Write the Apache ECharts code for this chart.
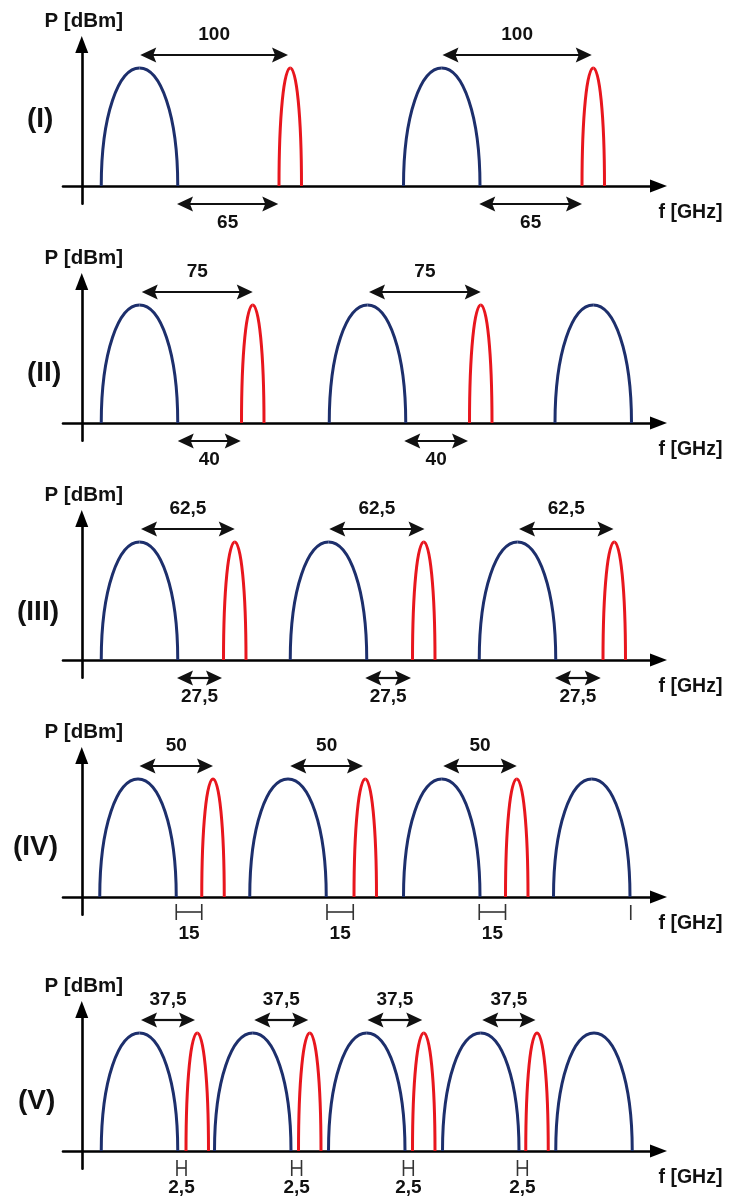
<!DOCTYPE html>
<html><head><meta charset="utf-8">
<script src="https://cdn.jsdelivr.net/npm/echarts@6/dist/echarts.min.js"></script>
<style>html,body{margin:0;padding:0;background:#fff}#c{width:731px;height:1198px}</style>
</head><body><div id="c"></div>
<script>
// ---------- DATA (schematic GHz positions) ----------
const panelNames = ['(I)', '(II)', '(III)', '(IV)', '(V)'];
// centres of the wide (blue) channels
const blueCenters = [
  [38.5, 240],
  [38.5, 190.5, 341],
  [38.5, 164.5, 290.5],
  [37.5, 137.5, 240, 340],
  [38.5, 114, 190, 266, 341.5]
];
// centres of the narrow (red) channels
const redCenters = [
  [139, 341],
  [114, 266],
  [102, 228, 355],
  [87.5, 189, 290],
  [77, 152, 228, 303.5]
];
const blueWidth = 51;   // GHz
const redWidth = 15;    // GHz
// upper spacing arrows [from, to]
const topArrows = [
  [[39, 137.5], [240.5, 340]],
  [[40, 114], [191.5, 266]],
  [[39.5, 102], [165, 228.5], [291.5, 354.5]],
  [[38.5, 87.5], [139, 187.5], [241, 290]],
  [[39.5, 75.5], [115, 151], [190.5, 227], [267, 302.5]]
];
const topLabels = [
  ['100', '100'],
  ['75', '75'],
  ['62,5', '62,5', '62,5'],
  ['50', '50', '50'],
  ['37,5', '37,5', '37,5', '37,5']
];
// lower guard-band marks [from, to]
const bottomMarks = [
  [[63.5, 131], [265, 333.5]],
  [[64, 106], [215, 257.5]],
  [[63.5, 93.5], [189, 219.5], [315.5, 346]],
  [[63, 80], [163.5, 181], [265, 282.5]],
  [[63.5, 69.5], [140, 146.5], [214.5, 221], [290.5, 297]]
];
const bottomLabels = [
  ['65', '65'],
  ['40', '40'],
  ['27,5', '27,5', '27,5'],
  ['15', '15', '15'],
  ['2,5', '2,5', '2,5', '2,5']
];
const bottomKind = ['arrow', 'arrow', 'arrow', 'bracket', 'bracket'];
const loneTicks = [[], [], [], [366], []];
const xMin = -12.5, xMax = 384.5;
const yMin = -0.15, yMax = 1.2;

// ---------- LAYOUT / STYLE ----------
const AXIS_Y = [186, 423, 660, 897, 1151];
const U = 118;
const LABEL_POS = [[27, 120], [27, 374], [17, 613], [13, 848], [18, 1102]];
const BLUE = '#1d2f6c', RED = '#e8161e', INK = '#111';
const FONT = '"Liberation Sans", Arial, sans-serif';
const numFont = 'bold 19px ' + FONT;

function archRender(color) {
  return function (params, api) {
    const c = api.value(0), w = api.value(1);
    const L = api.coord([c - w / 2, 0]), R = api.coord([c + w / 2, 0]), T = api.coord([c, 1]);
    const H = L[1] - T[1], hw = T[0] - L[0];
    const k1 = 0.6, k2 = 0.55;
    const st = { stroke: color, lineWidth: 3, fill: 'none' };
    return {
      type: 'group', children: [
        { type: 'bezierCurve', shape: { x1: L[0], y1: L[1], cpx1: L[0], cpy1: L[1] - k1 * H, cpx2: T[0] - k2 * hw, cpy2: T[1], x2: T[0], y2: T[1] }, style: st },
        { type: 'bezierCurve', shape: { x1: T[0], y1: T[1], cpx1: T[0] + k2 * hw, cpy1: T[1], cpx2: R[0], cpy2: R[1] - k1 * H, x2: R[0], y2: R[1] }, style: st }
      ]
    };
  };
}

function doubleArrow(xa, xb, y, children) {
  const Lh = 16, h = 7.5, n = 3;
  children.push({ type: 'line', shape: { x1: xa + Lh - n - 1, y1: y, x2: xb - Lh + n + 1, y2: y }, style: { stroke: INK, lineWidth: 2.2 } });
  children.push({ type: 'polygon', shape: { points: [[xa, y], [xa + Lh, y - h], [xa + Lh - n, y], [xa + Lh, y + h]] }, style: { fill: INK } });
  children.push({ type: 'polygon', shape: { points: [[xb, y], [xb - Lh, y - h], [xb - Lh + n, y], [xb - Lh, y + h]] }, style: { fill: INK } });
}
function txt(x, y, s) {
  return { type: 'text', x: x, y: y, style: { text: s, font: numFont, fill: INK, align: 'center', verticalAlign: 'middle' } };
}

function topRender(labels) {
  return function (params, api) {
    const a = api.coord([api.value(0), 1]), b = api.coord([api.value(1), 1]);
    const y = a[1] - 13;
    const ch = [];
    doubleArrow(a[0], b[0], y, ch);
    ch.push(txt((a[0] + b[0]) / 2, y - 20, labels[params.dataIndex]));
    return { type: 'group', children: ch };
  };
}
function bottomRender(labels, kind, panel) {
  return function (params, api) {
    const a = api.coord([api.value(0), 0]), b = api.coord([api.value(1), 0]);
    const ch = [];
    if (kind === 'arrow') {
      const y = a[1] + 18;
      doubleArrow(a[0], b[0], y, ch);
      ch.push(txt((a[0] + b[0]) / 2, y + 19, labels[params.dataIndex]));
    } else {
      const y = a[1] + (panel === 3 ? 15 : 17);
      const st = { stroke: '#333', lineWidth: 1.6 };
      ch.push({ type: 'line', shape: { x1: a[0], y1: y, x2: b[0], y2: y }, style: st });
      ch.push({ type: 'line', shape: { x1: a[0], y1: y - 8, x2: a[0], y2: y + 8 }, style: st });
      ch.push({ type: 'line', shape: { x1: b[0], y1: y - 8, x2: b[0], y2: y + 8 }, style: st });
      ch.push(txt((a[0] + b[0]) / 2, y + (panel === 3 ? 22 : 20), labels[params.dataIndex]));
    }
    return { type: 'group', children: ch };
  };
}
function tickRender(params, api) {
  const a = api.coord([api.value(0), 0]);
  return { type: 'line', shape: { x1: a[0], y1: a[1] + 8, x2: a[0], y2: a[1] + 23 }, style: { stroke: '#333', lineWidth: 1.6 } };
}

const grid = [], xAxis = [], yAxis = [], series = [], title = [];
AXIS_Y.forEach(function (ay, i) {
  grid.push({ left: 63, right: 72.5, top: ay - yMax * U, height: (yMax - yMin) * U, outerBoundsMode: 'none', containLabel: false });
  const axisLine = { show: true, onZero: true, symbol: ['none', 'triangle'], symbolSize: [13, 17], lineStyle: { color: '#000', width: 2.6 } };
  xAxis.push({
    type: 'value', gridIndex: i, min: xMin, max: xMax, axisLine: axisLine,
    axisTick: { show: false }, axisLabel: { show: false }, splitLine: { show: false },
    name: 'f [GHz]', nameLocation: 'end', nameGap: 32,
    nameTextStyle: { fontFamily: FONT, fontWeight: 'bold', fontSize: 19.5, color: INK, align: 'center', verticalAlign: 'top', padding: [17, 0, 0, 0] }
  });
  yAxis.push({
    type: 'value', gridIndex: i, min: yMin, max: yMax, axisLine: axisLine,
    axisTick: { show: false }, axisLabel: { show: false }, splitLine: { show: false },
    name: 'P [dBm]', nameLocation: 'end', nameGap: 13,
    nameTextStyle: { fontFamily: FONT, fontWeight: 'bold', fontSize: 20.5, color: INK, align: 'center', padding: [0, 0, 0, 4] }
  });
  title.push({ text: panelNames[i], left: LABEL_POS[i][0], top: LABEL_POS[i][1] - 15, padding: 0, textStyle: { fontFamily: FONT, fontWeight: 'bold', fontSize: 28, color: INK } });
  series.push({ type: 'custom', xAxisIndex: i, yAxisIndex: i, clip: false, silent: true, renderItem: archRender(BLUE), data: blueCenters[i].map(function (c) { return [c, blueWidth]; }) });
  series.push({ type: 'custom', xAxisIndex: i, yAxisIndex: i, clip: false, silent: true, renderItem: archRender(RED), data: redCenters[i].map(function (c) { return [c, redWidth]; }) });
  series.push({ type: 'custom', xAxisIndex: i, yAxisIndex: i, clip: false, silent: true, renderItem: topRender(topLabels[i]), data: topArrows[i] });
  series.push({ type: 'custom', xAxisIndex: i, yAxisIndex: i, clip: false, silent: true, renderItem: bottomRender(bottomLabels[i], bottomKind[i], i), data: bottomMarks[i] });
  if (loneTicks[i].length) {
    series.push({ type: 'custom', xAxisIndex: i, yAxisIndex: i, clip: false, silent: true, renderItem: tickRender, data: loneTicks[i].map(function (x) { return [x]; }) });
  }
});

const chart = echarts.init(document.getElementById('c'), null, { renderer: 'canvas' });
chart.setOption({ animation: false, backgroundColor: '#fff', title: title, grid: grid, xAxis: xAxis, yAxis: yAxis, series: series });
</script></body></html>
